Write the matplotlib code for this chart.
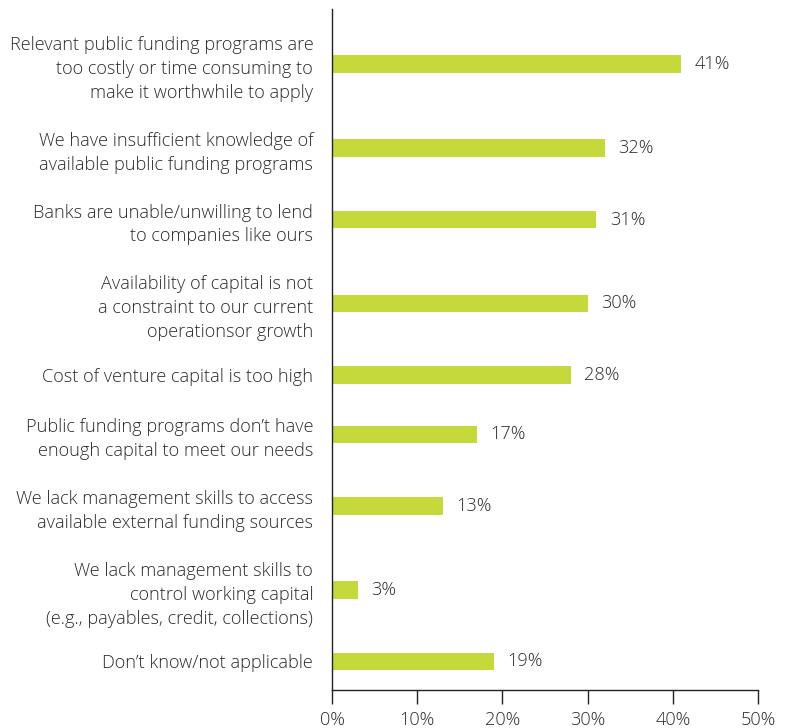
import matplotlib
matplotlib.use("Agg")
import matplotlib.pyplot as plt
from matplotlib.ticker import FuncFormatter

categories = [
    "Relevant public funding programs are\ntoo costly or time consuming to\nmake it worthwhile to apply",
    "We have insufficient knowledge of\navailable public funding programs",
    "Banks are unable/unwilling to lend\nto companies like ours",
    "Availability of capital is not\na constraint to our current\noperationsor growth",
    "Cost of venture capital is too high",
    "Public funding programs don\u2019t have\nenough capital to meet our needs",
    "We lack management skills to access\navailable external funding sources",
    "We lack management skills to\ncontrol working capital\n(e.g., payables, credit, collections)",
    "Don\u2019t know/not applicable",
]
values = [41, 32, 31, 30, 28, 17, 13, 3, 19]
xticks = [0, 10, 20, 30, 40, 50]

plt.rcParams["font.family"] = ["Open Sans", "DejaVu Sans"]
text_color = "#2b2b2b"
bar_color = "#c5d93a"
fs = 13.1

W, H = 791, 728
fig = plt.figure(figsize=(W / 100, H / 100), dpi=100)
ax = fig.add_axes([332 / W, 1 - 690 / H, (758 - 332) / W, (690 - 9) / H])

# each row gets room according to the number of lines in its label
heights = [0.95 + c.count("\n") + 1 for c in categories]
centers = []
pos = 0.0
for i, h in enumerate(heights):
    if i == 0:
        pos = h / 2
    else:
        pos += (heights[i - 1] + h) / 2
    centers.append(pos)

ax.barh(centers, values, height=0.73, color=bar_color, zorder=2)
for y, v in zip(centers, values):
    ax.text(v + 1.6, y, f"{v}%", va="center", ha="left", fontsize=fs,
            color=text_color, fontweight="light")

ax.set_yticks(centers)
ax.set_yticklabels(categories, fontsize=fs, color=text_color, linespacing=1.42,
                   fontweight="light")
ax.tick_params(axis="y", length=0, pad=13.5)
ax.set_ylim(centers[-1] + heights[-1] / 2 + 0.2, -0.3)

ax.set_xlim(0, 50)
ax.set_xticks(xticks)
ax.xaxis.set_major_formatter(FuncFormatter(lambda v, p: f"{int(v)}%"))
ax.tick_params(axis="x", length=10, width=1, color="#222222", labelsize=fs,
               labelcolor=text_color, pad=5, direction="out")
for lbl in ax.get_xticklabels():
    lbl.set_fontweight("light")

for s in ["top", "right"]:
    ax.spines[s].set_visible(False)
for s in ["left", "bottom"]:
    ax.spines[s].set_color("#222222")
    ax.spines[s].set_linewidth(1)

fig.savefig("out.png", dpi=100, facecolor="white")
